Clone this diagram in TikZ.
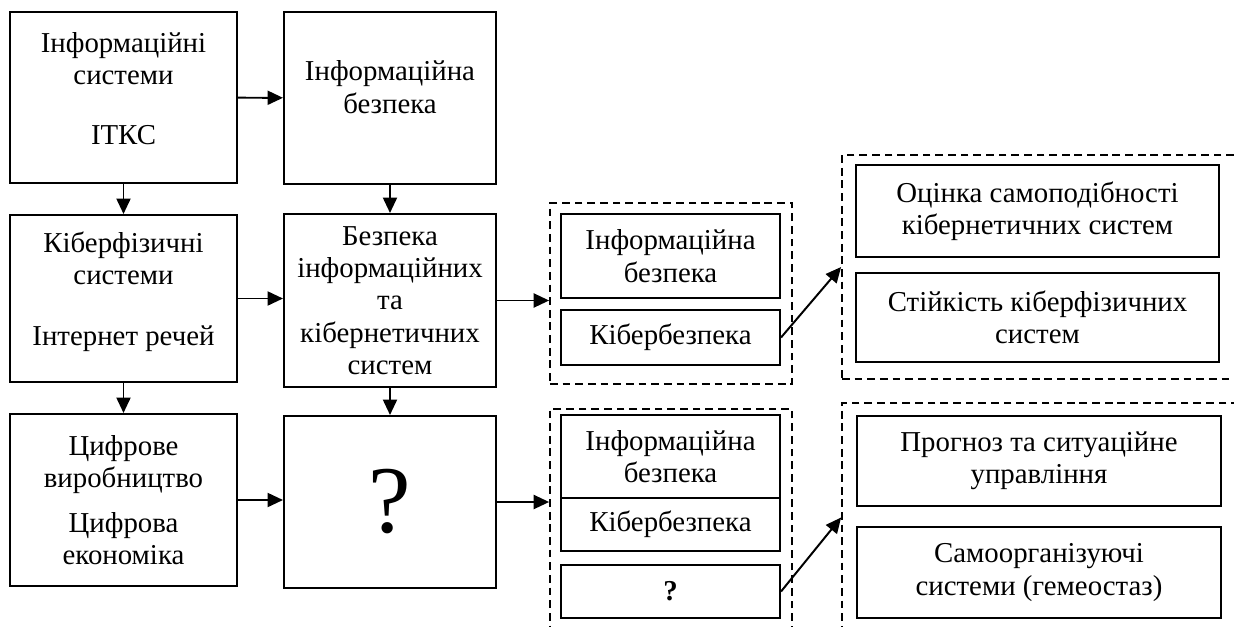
\documentclass[tikz,border=0pt]{standalone}
\usepackage{fontspec}
\setmainfont{Liberation Serif}
\usetikzlibrary{arrows.meta}

\begin{document}
\begin{tikzpicture}[x=0.025cm, y=-0.025cm]

  \tikzset{block/.style={draw, line width=1.4pt, align=center, inner sep=2pt, font=\fontsize{20.5}{23}\selectfont},
           group/.style={draw, dashed, line width=1.2pt, dash pattern=on 5.5pt off 3.5pt},
           link/.style={line width=1.4pt, -{Triangle[length=11pt, width=10pt]}}}

  \useasboundingbox (0,0) rectangle (1234,626);
  \clip (0,0) rectangle (1234,626);

%% Blocks
  \node[block, minimum width=5.675cm, minimum height=4.275cm, text depth=0.45cm] (infsys) at (123.5,97.5) {Інформаційні\\системи\\[0.7cm]ІТКС};
  \node[block, minimum width=5.3cm, minimum height=4.3cm, text depth=0.55cm] (infsec) at (390,98) {Інформаційна\\безпека};
  \node[block, minimum width=5.675cm, minimum height=4.175cm, text depth=0.5cm] (cps) at (123.5,298.5) {Кіберфізичні\\системи\\[0.7cm]Інтернет речей};
  \node[block, minimum width=5.3cm, minimum height=4.325cm] (secsys) at (390,300.5) {Безпека\\інформаційних\\та\\кібернетичних\\систем};
  \node[block, minimum width=5.675cm, minimum height=4.3cm] (digi) at (123.5,500) {Цифрове\\виробництво\\[0.3cm]Цифрова\\економіка};
  \node[block, minimum width=5.3cm, minimum height=4.3cm, font=\fontsize{68}{68}\selectfont] (unknown) at (390,502) {?};

%% Groups
  \node[group, minimum width=6.05cm, minimum height=4.525cm] (grp1) at (671,293.5) {};
  \node[group, minimum width=9.85cm, minimum height=5.6cm] (grp2) at (1039,267) {};
  \node[group, minimum width=6.05cm, minimum height=5.575cm] (grp3) at (671,520.5) {};
  \node[group, minimum width=9.85cm, minimum height=5.725cm] (grp4) at (1039,517.5) {};

  \node[block, minimum width=5.475cm, minimum height=2.1cm] (ib1) at (670.5,256) {Інформаційна\\безпека};
  \node[block, minimum width=5.475cm, minimum height=1.375cm] (kb1) at (670.5,337.5) {Кібербезпека};
  \node[block, minimum width=5.475cm, minimum height=2.075cm] (ib2) at (670.5,456.5) {Інформаційна\\безпека};
  \node[block, minimum width=5.475cm, minimum height=1.325cm] (kb2) at (670.5,524.5) {Кібербезпека};
  \node[block, minimum width=5.475cm, minimum height=1.325cm] (q2) at (670.5,591.5) {\textbf{?}};

  \node[block, minimum width=9.075cm, minimum height=2.3cm] (r1) at (1037.5,211) {Оцінка самоподібності\\кібернетичних систем};
  \node[block, minimum width=9.075cm, minimum height=2.225cm] (r2) at (1037.5,317.5) {Стійкість кіберфізичних\\систем};
  \node[block, minimum width=9.1cm, minimum height=2.25cm] (r3) at (1039,461) {Прогноз та ситуаційне\\управління};
  \node[block, minimum width=9.1cm, minimum height=2.275cm] (r4) at (1039,572.5) {Самоорганізуючі\\системи (гемеостаз)};

%Edges
  \path (infsys) edge[link] (infsec);
  \path (infsys) edge[link] (cps);
  \path (infsec) edge[link] (secsys);
  \path (cps.east) edge[link] (cps.east -| secsys.west);
  \path (cps) edge[link] (digi);
  \path (secsys) edge[link] (unknown);
  \path (secsys.east) edge[link] (secsys.east -| grp1.west);
  \path (digi.east) edge[link] (digi.east -| unknown.west);
  \path (unknown.east) edge[link] (unknown.east -| grp3.west);
  \path (kb1.east) edge[link] (grp2.west);
  \path (q2.east) edge[link] (grp4.west);
\end{tikzpicture}
\end{document}
